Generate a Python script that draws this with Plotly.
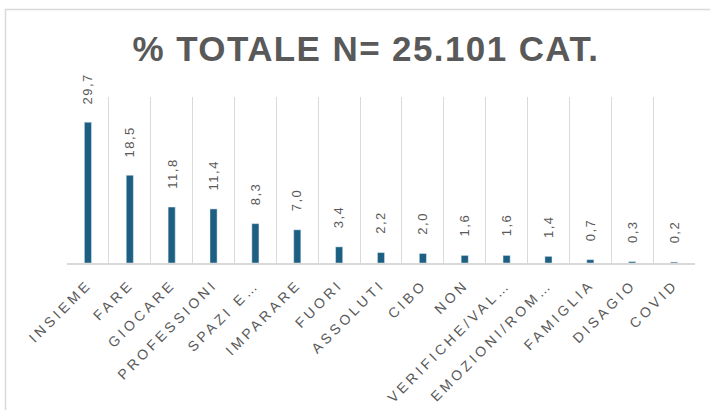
import plotly.graph_objects as go

categories = ["INSIEME", "FARE", "GIOCARE", "PROFESSIONI", "SPAZI E…", "IMPARARE",
              "FUORI", "ASSOLUTI", "CIBO", "NON", "VERIFICHE/VAL…", "EMOZIONI/ROM…",
              "FAMIGLIA", "DISAGIO", "COVID"]
values = [29.7, 18.5, 11.8, 11.4, 8.3, 7.0, 3.4, 2.2, 2.0, 1.6, 1.6, 1.4, 0.7, 0.3, 0.2]
labels = [f"{v:.1f}".replace(".", ",") for v in values]

W, H = 710, 410
ML, MR, MT, MB = 67, 15, 97, 147
grey = "#595959"
bar_color = "#1c5f82"

fig = go.Figure(go.Bar(
    x=categories, y=values, marker_color=bar_color, width=0.17,
    hoverinfo="x+y",
))

for c, v, t in zip(categories, values, labels):
    fig.add_annotation(x=c, y=v, text=t, textangle=-90, showarrow=False,
                       xanchor="center", yanchor="bottom", yshift=19,
                       font=dict(family="Liberation Sans, Arial", size=13, color=grey))

pw = W - ML - MR
ph = H - MT - MB
fig.add_shape(type="rect", xref="paper", yref="paper",
              x0=(5.5 - ML) / pw, x1=(W + 20 - ML) / pw,
              y0=(-20 - MB) / ph, y1=(H - 9.5 - MB) / ph,
              line=dict(color="#d9d9d9", width=1.5), fillcolor="rgba(0,0,0,0)", layer="below")

fig.update_layout(
    width=W, height=H,
    margin=dict(l=ML, r=MR, t=MT, b=MB),
    paper_bgcolor="white", plot_bgcolor="white",
    title=dict(text="<b>% TOTALE N= 25.101 CAT.</b>", x=366 / W, xanchor="center",
               y=1 - 49 / H, yanchor="middle",
               font=dict(family="Liberation Sans, Arial", size=35, color=grey)),
    showlegend=False,
    bargap=0.8,
    xaxis=dict(type="category", tickson="boundaries", showgrid=True, gridcolor="#d9d9d9",
               gridwidth=1.2, showline=True, linecolor="#d9d9d9", linewidth=1.5,
               ticks="", tickangle=-45, ticklabelstandoff=6,
               tickfont=dict(family="Liberation Sans, Arial", size=14, color=grey)),
    yaxis=dict(range=[0, 35], visible=False, showgrid=False, zeroline=False),
)

post = """
var s = document.createElement('style');
s.textContent = 'body{margin:0 !important;overflow:hidden;} .xtick text{letter-spacing:3.5px;} '
  + '.annotation-text{letter-spacing:1.5px;} .gtitle{letter-spacing:1.4px;}';
document.head.appendChild(s);
"""

fig.write_html("out.html", post_script=post, config={"displayModeBar": False})
